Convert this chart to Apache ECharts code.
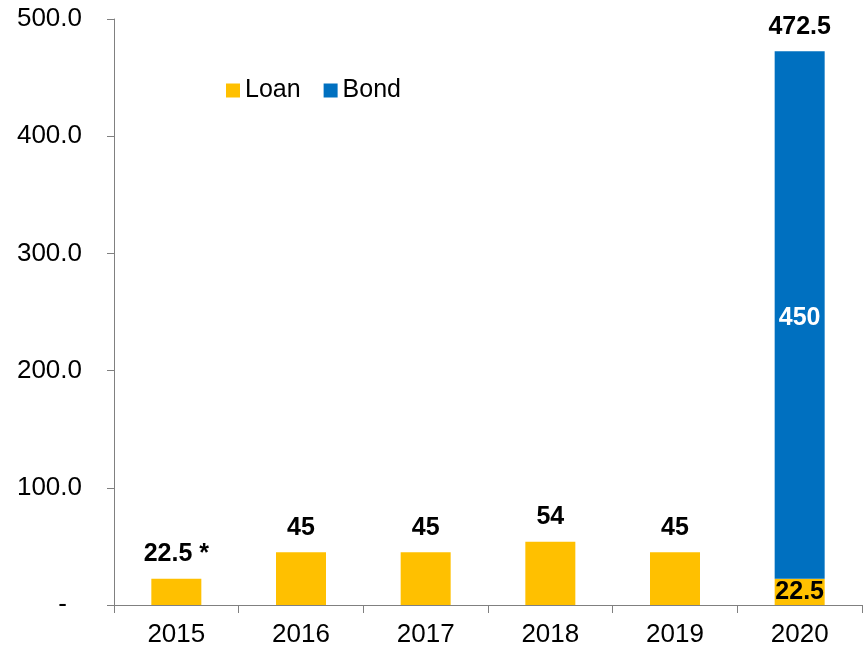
<!DOCTYPE html>
<html><head><meta charset="utf-8">
<script src="https://cdn.jsdelivr.net/npm/echarts@6/dist/echarts.min.js"></script>
<style>html,body{margin:0;padding:0;background:#fff}#c{width:865px;height:651px}</style>
</head><body><div id="c"></div>
<script>
const categories = ['2015','2016','2017','2018','2019','2020'];
const loan = [22.5, 45, 45, 54, 45, 22.5];
const bond = ['-', '-', '-', '-', '-', 450];
const notes = [' *', '', '', '', '', ''];
const yTicks = [0, 100, 200, 300, 400, 500];

const totals = loan.map((v, i) => v + (typeof bond[i] === 'number' ? bond[i] : 0));
const FONT = 'Liberation Sans, Arial, sans-serif';
const chart = echarts.init(document.getElementById('c'));
chart.setOption({
  animation: false,
  textStyle: { fontFamily: FONT },
  grid: { left: 114, right: 3, top: 19, bottom: 46, containLabel: false },
  legend: {
    data: ['Loan', 'Bond'], left: 226, top: 78, padding: 0, icon: 'rect',
    itemWidth: 14, itemHeight: 14, itemGap: 23,
    textStyle: { fontSize: 25, color: '#000', fontFamily: FONT }
  },
  xAxis: {
    type: 'category', data: categories,
    axisLine: { lineStyle: { color: '#808080', width: 1 } },
    axisTick: { show: true, length: 8, lineStyle: { color: '#808080' } },
    axisLabel: { fontSize: 26, color: '#000', margin: 17, fontFamily: FONT }
  },
  yAxis: {
    type: 'value', min: yTicks[0], max: yTicks[yTicks.length - 1], interval: 100,
    splitLine: { show: false },
    axisLine: { show: true, lineStyle: { color: '#808080', width: 1 } },
    axisTick: { show: true, length: 7, lineStyle: { color: '#808080' } },
    axisLabel: {
      fontSize: 26, color: '#000', margin: 32, fontFamily: FONT,
      formatter: v => v === 0 ? '{d|-}' : v.toFixed(1),
      rich: { d: { fontSize: 26, color: '#000', padding: [0, 15, 0, 0], fontFamily: FONT } }
    }
  },
  series: [
    {
      name: 'Loan', type: 'bar', stack: 's', barWidth: 50,
      itemStyle: { color: '#FFC000' },
      data: loan.map((v, i) => ({
        value: v,
        label: (typeof bond[i] === 'number') ? {
          show: true, position: 'inside', fontSize: 25, fontWeight: 'bold', color: '#000', fontFamily: FONT
        } : { show: false }
      }))
    },
    {
      name: 'Bond', type: 'bar', stack: 's', barWidth: 50,
      itemStyle: { color: '#0070C0' },
      label: { show: true, position: 'inside', offset: [0, 3], fontSize: 25, fontWeight: 'bold', color: '#fff', fontFamily: FONT },
      data: bond
    },
    {
      name: 'Total', type: 'bar', stack: 's', barWidth: 50,
      itemStyle: { color: 'rgba(0,0,0,0)' },
      label: {
        show: true, position: 'top', distance: 12, fontSize: 25, fontWeight: 'bold', color: '#000', fontFamily: FONT,
        formatter: p => totals[p.dataIndex] + notes[p.dataIndex]
      },
      data: totals.map(() => 0)
    }
  ]
});
</script></body></html>
